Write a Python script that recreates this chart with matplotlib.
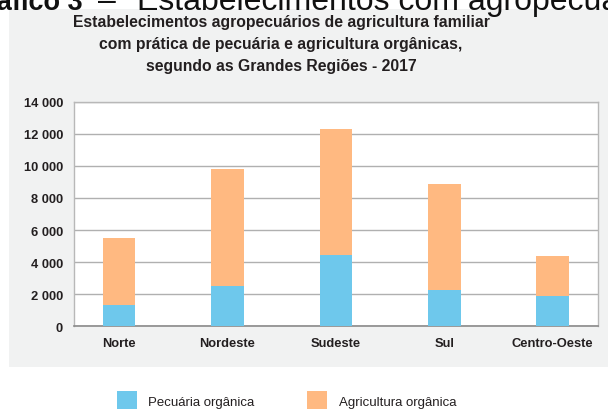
import matplotlib
matplotlib.use("Agg")
import matplotlib.pyplot as plt
from matplotlib.patches import Rectangle

regions = ["Norte", "Nordeste", "Sudeste", "Sul", "Centro-Oeste"]
pecuaria = [1350, 2500, 4450, 2250, 1900]
total = [5500, 9800, 12300, 8900, 4400]
agricultura = [t - p for t, p in zip(total, pecuaria)]
yticks = [0, 2000, 4000, 6000, 8000, 10000, 12000, 14000]
ytick_labels = ["0", "2 000", "4 000", "6 000", "8 000", "10 000", "12 000", "14 000"]
series_names = ["Pecuária orgânica", "Agricultura orgânica"]
title = ("Estabelecimentos agropecuários de agricultura familiar\n"
         "com prática de pecuária e agricultura orgânicas,\n"
         "segundo as Grandes Regiões - 2017")

BLUE = "#6ec8ec"
ORANGE = "#ffb981"
PANEL = "#f1f2f2"
FONT = ["Liberation Sans", "DejaVu Sans"]

W, H = 608, 410
fig = plt.figure(figsize=(W / 100, H / 100), dpi=100)
fig.patch.set_facecolor("white")

# gray panel
fig.patches.append(Rectangle((9 / W, 1 - 368 / H), (W - 9) / W, (368 - 10) / H,
                             transform=fig.transFigure, facecolor=PANEL,
                             edgecolor="none", zorder=-5))

# clipped heading at top
base = 1 - 10 / H
fig.text(83 / W, base, "Gráfico 3", ha="right", va="baseline",
         fontsize=19.5, fontweight="bold", family=FONT, color="#111111")
fig.text(98 / W, base, "–", ha="left", va="baseline",
         fontsize=23, family=FONT, color="#111111")
fig.text(137 / W, base, "Estabelecimentos com agropecuária", ha="left", va="baseline",
         fontsize=23, family=FONT, color="#111111")

# title
fig.text(281 / W, 1 - 44.5 / H, title, ha="center", va="center", fontsize=11.3,
         fontweight="bold", family=FONT, color="#231f20", linespacing=1.58)

ax = fig.add_axes([74 / W, 1 - 327.3 / H, (597.7 - 74) / W, (327.3 - 102.7) / H])
ax.set_facecolor("white")
x = range(len(regions))
ax.bar(x, pecuaria, width=0.30, color=BLUE, label=series_names[0], zorder=3)
ax.bar(x, agricultura, width=0.30, bottom=pecuaria, color=ORANGE,
       label=series_names[1], zorder=3)
ax.set_xlim(-0.415, 4.415)
ax.set_ylim(0, 14000)
ax.set_yticks(yticks)
ax.set_yticklabels(ytick_labels)
ax.set_xticks(list(x))
ax.set_xticklabels(regions)
ax.grid(axis="y", color="#b0b0b0", linewidth=1.0, zorder=0)
ax.set_axisbelow(True)
for s in ["left", "top", "right"]:
    ax.spines[s].set_color("#b8b8b8")
    ax.spines[s].set_linewidth(1.0)
ax.spines["bottom"].set_color("#8a8a8a")
ax.spines["bottom"].set_linewidth(1.2)
ax.tick_params(length=0, pad=8)
for lab in ax.get_yticklabels() + ax.get_xticklabels():
    lab.set_fontfamily(FONT)
    lab.set_fontweight("bold")
    lab.set_fontsize(9.3)
    lab.set_color("#231f20")

# legend (manual, below the panel)
colors = [BLUE, ORANGE]
sq_x = [117, 307]
txt_x = [148, 339]
for c, sx, tx, name in zip(colors, sq_x, txt_x, series_names):
    fig.patches.append(Rectangle((sx / W, 1 - 412 / H), 20 / W, 20 / H,
                                 transform=fig.transFigure, facecolor=c,
                                 edgecolor="none"))
    fig.text(tx / W, 1 - 403 / H, name, ha="left", va="center",
             fontsize=9.5, family=FONT, color="#231f20")

fig.savefig("out.png", dpi=100)
